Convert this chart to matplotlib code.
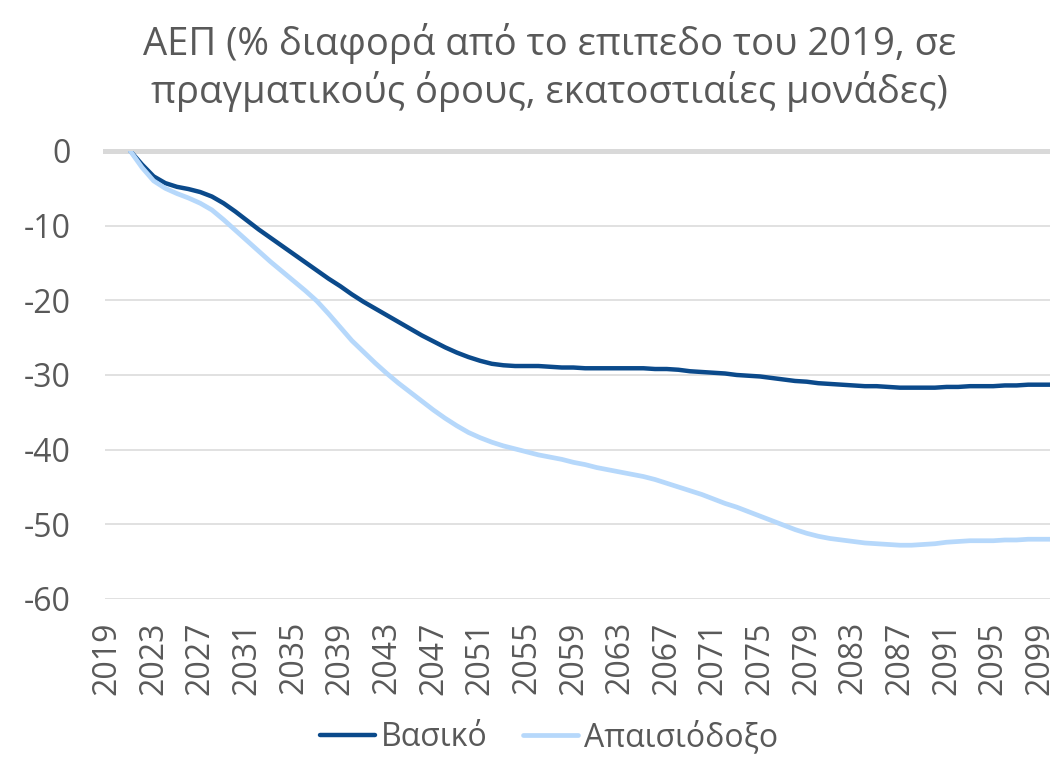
import matplotlib.pyplot as plt
import numpy as np

# data
years = list(range(2019, 2101))
basic = [np.nan, np.nan,
         0.0, -1.8, -3.4, -4.3, -4.8, -5.1, -5.5, -6.1, -7.0, -8.1,
         -9.3, -10.5, -11.6, -12.7, -13.8, -14.9, -16.0, -17.1, -18.1, -19.2,
         -20.2, -21.1, -22.0, -22.9, -23.8, -24.7, -25.5, -26.3, -27.0, -27.6,
         -28.1, -28.5, -28.7, -28.8, -28.8, -28.8, -28.9, -29.0, -29.0, -29.1,
         -29.1, -29.1, -29.1, -29.1, -29.1, -29.2, -29.2, -29.3, -29.5, -29.6,
         -29.7, -29.8, -30.0, -30.1, -30.2, -30.4, -30.6, -30.8, -30.9, -31.1,
         -31.2, -31.3, -31.4, -31.5, -31.5, -31.6, -31.7, -31.7, -31.7, -31.7,
         -31.6, -31.6, -31.5, -31.5, -31.5, -31.4, -31.4, -31.3, -31.3, -31.3]
pessimistic = [np.nan, np.nan,
               0.0, -2.2, -4.0, -5.0, -5.7, -6.3, -7.0, -7.9, -9.2, -10.6,
               -12.0, -13.4, -14.8, -16.1, -17.4, -18.7, -20.1, -21.8, -23.6, -25.4,
               -26.9, -28.4, -29.8, -31.1, -32.3, -33.5, -34.7, -35.8, -36.8, -37.7,
               -38.4, -39.0, -39.5, -39.9, -40.3, -40.7, -41.0, -41.3, -41.7, -42.0,
               -42.4, -42.7, -43.0, -43.3, -43.6, -44.0, -44.5, -45.0, -45.5, -46.0,
               -46.6, -47.2, -47.7, -48.3, -48.9, -49.5, -50.1, -50.7, -51.2, -51.6,
               -51.9, -52.1, -52.3, -52.5, -52.6, -52.7, -52.8, -52.8, -52.7, -52.6,
               -52.4, -52.3, -52.2, -52.2, -52.2, -52.1, -52.1, -52.0, -52.0, -52.0]
tick_years = list(range(2019, 2100, 4))
title = 'ΑΕΠ (% διαφορά από το επιπεδο του 2019, σε\nπραγματικούς όρους, εκατοστιαίες μονάδες)'

plt.rcParams['font.family'] = ['Open Sans', 'DejaVu Sans']
plt.rcParams['axes.unicode_minus'] = False
text_col = '#595959'

fig = plt.figure(figsize=(10.5, 7.58), dpi=100)
ax = fig.add_axes([0.1, 0.2098, 0.9, 0.591])

ax.plot(years, basic, color='#0B4A8B', lw=3.2, label='Βασικό', solid_capstyle='round')
ax.plot(years, pessimistic, color='#B6D8FB', lw=3.4, label='Απαισιόδοξο', solid_capstyle='round')

ax.set_xlim(2018.83, 2099.87)
ax.set_ylim(-60, 0)
ax.set_yticks(range(-60, 1, 10))
ax.set_xticks(tick_years)
ax.set_xticklabels([str(y) for y in tick_years], rotation=90)
ax.tick_params(axis='both', length=0, labelsize=23, labelcolor=text_col)
ax.tick_params(axis='y', pad=25)
ax.tick_params(axis='x', pad=16)

ax.grid(axis='y', color='#D9D9D9', lw=1.1)
ax.set_axisbelow(True)
for s in ['left', 'right', 'bottom']:
    ax.spines[s].set_visible(False)
ax.spines['top'].set_color('#D9D9D9')
ax.spines['top'].set_linewidth(3.6)
ax.spines['top'].set_zorder(0.5)

fig.text(0.523, 0.911, title, ha='center', va='center', fontsize=27.5,
         color=text_col, linespacing=1.2)

fig.legend(loc='center', bbox_to_anchor=(0.523, 0.027), ncol=2, frameon=False,
           fontsize=23, labelcolor=text_col, handlelength=1.72, handletextpad=0.18,
           columnspacing=1.1, borderaxespad=0.1)

fig.savefig('out.png', dpi=100)
